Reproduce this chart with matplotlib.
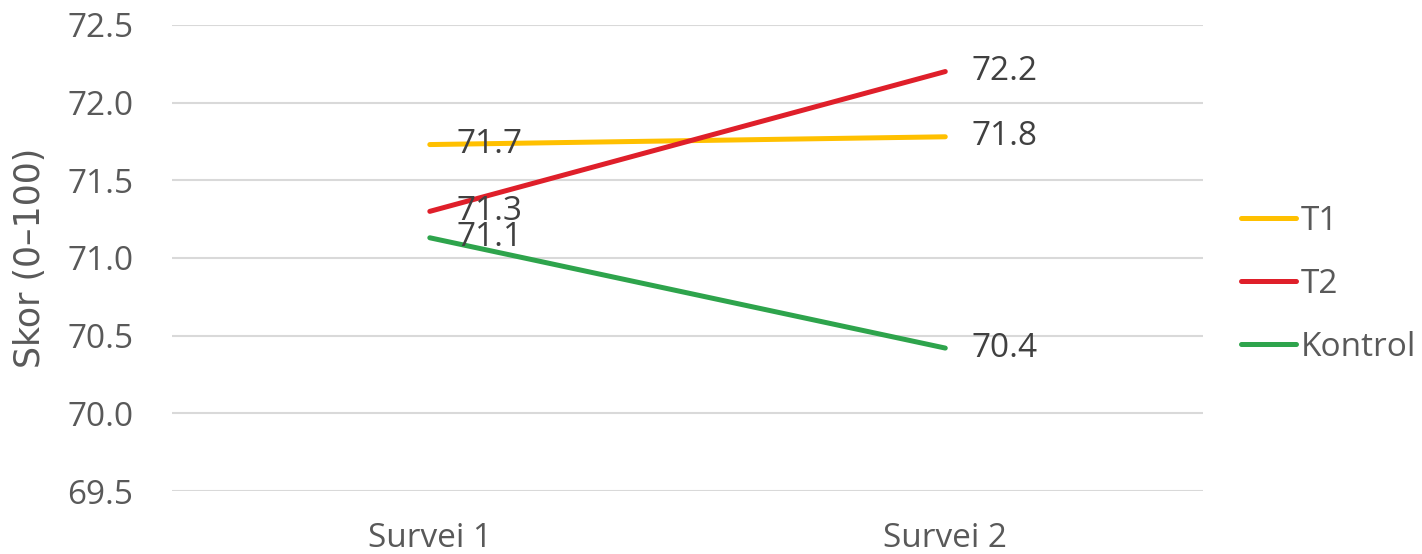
import matplotlib
matplotlib.use("Agg")
import matplotlib.pyplot as plt
from matplotlib import font_manager

categories = ["Survei 1", "Survei 2"]
series_names = ["T1", "T2", "Kontrol"]
t1_values = [71.73, 71.78]
t2_values = [71.30, 72.20]
kontrol_values = [71.13, 70.42]
y_ticks = [69.5, 70.0, 70.5, 71.0, 71.5, 72.0, 72.5]

colors = ["#FFC000", "#DF1F2A", "#2EA44C"]

available = {f.name for f in font_manager.fontManager.ttflist}
narrow = "Liberation Sans Narrow" if "Liberation Sans Narrow" in available else "Open Sans"
plt.rcParams["font.family"] = ["Open Sans", "DejaVu Sans"]

fig = plt.figure(figsize=(14.22, 5.54), dpi=100)
ax = fig.add_axes([0.121, 0.1137, 0.725, 0.8413])

x = [0, 1]
series = [t1_values, t2_values, kontrol_values]
for name, vals, c in zip(series_names, series, colors):
    ax.plot(x, vals, color=c, lw=3.6, solid_capstyle="round", label=name, zorder=3)
    for xi, v in zip(x, vals):
        ax.annotate(f"{v:.1f}", (xi, v), xytext=(19, 0), textcoords="offset points",
                    ha="left", va="center", fontsize=24, color="#404040", zorder=4)

ax.set_xlim(-0.5, 1.5)
ax.set_ylim(69.5, 72.5)
ax.set_yticks(y_ticks)
ax.set_yticklabels([f"{t:.1f}" for t in y_ticks], fontsize=24, color="#595959")
ax.set_xticks(x)
ax.set_xticklabels(categories, fontsize=24, color="#595959", family=narrow)
ax.tick_params(axis="both", length=0)
ax.tick_params(axis="y", pad=28)
ax.tick_params(axis="x", pad=22)
ax.grid(axis="y", color="#D9D9D9", lw=1.5, zorder=0)
for s in ax.spines.values():
    s.set_visible(False)

ax.set_ylabel("Skor (0–100)", fontsize=25, color="#595959", family="DejaVu Sans")
ax.yaxis.set_label_coords(-0.121, 0.5)

fig.legend(loc="center left", bbox_to_anchor=(0.873, 0.487), frameon=False,
           fontsize=24, handlelength=1.65, handletextpad=0.12, labelspacing=0.9,
           borderpad=0, borderaxespad=0, labelcolor="#595959")

fig.savefig("out.png", dpi=100)
